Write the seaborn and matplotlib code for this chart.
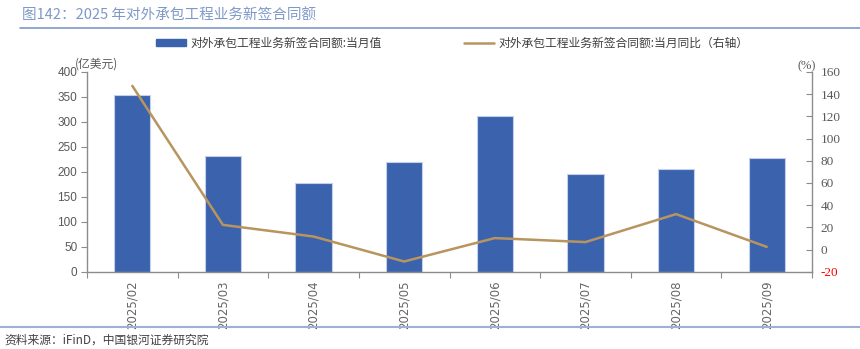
import numpy as np
import pandas as pd
import matplotlib
matplotlib.use("Agg")
import matplotlib.pyplot as plt
from matplotlib.ticker import FixedLocator
from matplotlib.lines import Line2D
from matplotlib.patches import Patch
import seaborn as sns

months = ["2025/02", "2025/03", "2025/04", "2025/05", "2025/06", "2025/07", "2025/08", "2025/09"]
values = [354, 232, 178, 220, 311, 196, 205, 227]
yoy = [147.5, 22.2, 11.7, -10.8, 10.3, 6.7, 31.9, 2.4]
left_ticks = [0, 50, 100, 150, 200, 250, 300, 350, 400]
right_ticks = [-20, 0, 20, 40, 60, 80, 100, 120, 140, 160]

bar_name = "对外承包工程业务新签合同额:当月值"
line_name = "对外承包工程业务新签合同额:当月同比（右轴）"

sns.set_theme(style="white")
plt.rcParams['font.family'] = ['Noto Sans CJK SC', 'DejaVu Sans']

BAR = "#3A62AD"
LINE = "#B8945E"
GRAY = "#8C8C8C"
TXT = "#595959"

fig = plt.figure(figsize=(8.6, 3.49), dpi=100)
ax = fig.add_axes([87/860, 1-271.7/349, (812-87)/860, (271.7-72)/349])

df = pd.DataFrame({"month": months, "value": values, "yoy": yoy, "idx": np.arange(len(months))})
sns.barplot(data=df, x="idx", y="value", ax=ax, color=BAR, width=0.4, native_scale=True,
            edgecolor="#C5D0E8", linewidth=0.8, saturation=1)
ax.set_xlim(-0.5, len(months) - 0.5)
ax.set_ylim(0, 400)
ax.set_yticks(left_ticks)
ax.set_yticklabels([str(v) for v in left_ticks], family=['Liberation Sans'], fontsize=8.5, color=TXT)
ax.set_xlabel("")
ax.set_ylabel("")

ax2 = ax.twinx()
sns.lineplot(data=df, x="idx", y="yoy", ax=ax2, color=LINE, linewidth=1.8)
ax2.set_ylim(-20, 160)
ax2.set_yticks(right_ticks)
ax2.set_yticklabels([str(v) for v in right_ticks], family=['Liberation Serif'], fontsize=9.5, color=TXT)
for lab in ax2.get_yticklabels():
    if lab.get_text() == "-20":
        lab.set_color("red")
ax2.set_ylabel("")
ax2.set_xlabel("")
ax2.set_xlim(-0.5, len(months) - 0.5)

# x ticks
ax.xaxis.set_major_locator(FixedLocator(list(range(len(months)))))
ax.set_xticklabels(months, rotation=90, fontsize=8.5, color="#666666", family=['DejaVu Sans'])
ax.xaxis.set_minor_locator(FixedLocator(list(np.arange(-0.5, len(months), 1.0))))
ax.tick_params(axis="x", which="major", length=0, pad=6)
ax.tick_params(axis="x", which="minor", length=4, color=GRAY, width=0.8, direction="out", bottom=True)

ax.tick_params(axis="y", length=4, color=GRAY, width=0.8, direction="out", left=True, pad=3)
ax2.tick_params(axis="y", length=4, color=GRAY, width=0.8, direction="in", right=True, pad=6)

for a in (ax, ax2):
    a.spines["top"].set_visible(False)
    a.spines["left"].set_color(GRAY)
    a.spines["right"].set_color(GRAY)
    a.spines["bottom"].set_color(GRAY)
ax.spines["right"].set_visible(False)
ax2.spines["left"].set_visible(False)
ax2.spines["bottom"].set_visible(False)
ax.spines["left"].set_linewidth(1.0)
ax2.spines["right"].set_linewidth(1.0)
ax.spines["bottom"].set_linewidth(1.0)
ax.set_zorder(1)
ax2.set_zorder(2)
ax.patch.set_visible(False)

# units
fig.text(75/860, 1-64/349, "(亿美元)", fontsize=8.5, color=TXT, va="center", ha="left")
fig.text(798/860, 1-66/349, "(%)", fontsize=9, color=TXT, va="center", ha="left", family=['Liberation Serif'])

# legend
handles = [Patch(facecolor=BAR, edgecolor=BAR), Line2D([0], [0], color=LINE, lw=1.8)]
fig.legend(handles, [bar_name, line_name], loc="center", bbox_to_anchor=(0.526, 1-43/349), ncol=2,
           frameon=False, fontsize=8.5, handlelength=2.5, handleheight=0.5, columnspacing=7,
           labelcolor="#404040", handletextpad=0.4)

# title and rules
fig.text(22/860, 1-15/349, "图142：2025 年对外承包工程业务新签合同额", fontsize=10.5, color="#7F98C8",
         va="center", ha="left")
fig.add_artist(Line2D([20/860, 1.0], [1-28/349, 1-28/349], color="#7F98C8", lw=1.2))
fig.add_artist(Line2D([0.0, 1.0], [1-327/349, 1-327/349], color="#9DB0D6", lw=1.5))
fig.text(4/860, 1-340/349, "资料来源：iFinD，中国银河证券研究院", fontsize=8.5, color="#404040",
         va="center", ha="left", style="italic")

fig.savefig("out.png", dpi=100)
